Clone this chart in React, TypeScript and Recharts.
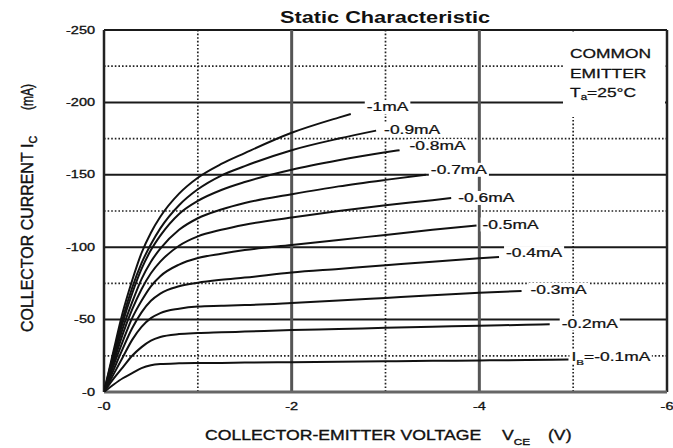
import React from "react";
import { LineChart, Line, XAxis, YAxis, CartesianGrid } from "recharts";

// Collector-emitter voltage grid (V)
const vceGrid = [0, -0.1, -0.2, -0.3, -0.4, -0.5, -0.6, -0.8, -1.0, -1.25, -1.5, -2.0, -2.5, -3.0, -3.5, -4.0, -4.5];

// Base current labels
const ibLabels = ["-1mA", "-0.9mA", "-0.8mA", "-0.7mA", "-0.6mA", "-0.5mA", "-0.4mA", "-0.3mA", "-0.2mA", "-0.1mA"];

// Collector current (mA) for each base current, sampled on vceGrid
const icIb10 = [0, -28, -55, -77, -96, -110, -121, -137, -148, -157.5, -165, -179, -189.5];
const icIb09 = [0, -26, -51, -72, -89, -102, -113, -129, -140, -149.5, -156, -167, -175];
const icIb08 = [0, -24, -48, -68, -85, -98, -108, -123, -132, -139.5, -145, -153.5, -160, -165.5];
const icIb07 = [0, -22, -44, -62, -78, -90, -99, -112, -120, -126, -130.5, -136.5, -142, -146.5];
const icIb06 = [0, -20, -40, -57, -71, -82, -90, -101, -107.5, -112, -115.5, -120.5, -125, -129, -132.5];
const icIb05 = [0, -18, -35, -51, -63, -73, -80, -88, -92.5, -95.5, -98, -101.5, -105, -108.5, -112];
const icIb04 = [0, -15, -30, -44, -55, -63, -68, -73, -75.5, -77.5, -79, -82.5, -85, -87.5, -90, -92.3];
const icIb03 = [0, -12, -24, -36, -45, -51, -54.5, -57.5, -59, -59.5, -60, -61.5, -63.2, -65, -66.8, -68.5];
const icIb02 = [0, -9, -17, -25, -31, -35.5, -38, -40, -40.7, -41.2, -41.7, -42.8, -43.5, -44.3, -45, -45.8, -46.4];
const icIb01 = [0, -5, -9.5, -13, -16.5, -18.5, -19.3, -19.8, -20, -20.1, -20.3, -20.6, -20.9, -21.2, -21.5, -21.8, -22.1];

// Curve end points
const endVce = [-2.63, -2.9, -3.15, -3.43, -3.7, -3.97, -4.21, -4.45, -4.75, -4.95];
const endIc = [-192, -180.5, -167, -150, -134, -115, -93.2, -69.8, -46.8, -22.4];

// Axis ticks
const xTicks = [0, -2, -4, -6];
const xMinor = [-1, -3, -5];
const yTicks = [0, -50, -100, -150, -200, -250];
const yMinor = [-25, -75, -125, -175, -225];

const icCurves = [icIb10, icIb09, icIb08, icIb07, icIb06, icIb05, icIb04, icIb03, icIb02, icIb01];

const series = icCurves.map((ics, k) => {
  const pts = ics.map((ic, j) => ({ v: vceGrid[j], ic }));
  pts.push({ v: endVce[k], ic: endIc[k] });
  return pts;
});

// label placement offsets (px) relative to curve end
const lblDx = [16, 8, 10, 5, 7, 6, 7, 9, 12, 3];
const lblDy = [-7, -1, -4, -5, 0, -1, -4, -1, -1, -3];

const FONT = "'Liberation Sans', Arial, Helvetica, sans-serif";
const SX = 1.45;

const charW: Record<string, number> = {
  "-": 0.333, ".": 0.278, m: 0.833, A: 0.667, I: 0.278, "=": 0.584, B: 0.667,
};
const textW = (s: string, fs: number) =>
  s.split("").reduce((a, c) => a + (charW[c] ?? 0.556), 0) * fs;

const makeLabel = (k: number, lastIndex: number) => (props: any) => {
  const { cx, cy, index } = props;
  if (index !== lastIndex || cx == null) return <g key={`l${k}-${index}`} />;
  const x = cx + lblDx[k];
  const y = cy + lblDy[k];
  const text = ibLabels[k];
  const isLast = k === ibLabels.length - 1;
  const w = (isLast ? textW("I=" + text, 12) + 5 : textW(text, 12)) * SX;
  return (
    <g key={`l${k}-${index}`}>
      <rect x={x - 2} y={y - 7} width={w + 4} height={14} fill="#fff" />
      <text
        transform={`translate(${x},${y + 4.3}) scale(${SX},1)`}
        fontFamily={FONT}
        fontSize={12}
        fill="#111"
        stroke="#111"
        strokeWidth={0.25}
      >
        {isLast ? (
          <>
            I<tspan fontSize={8} dy={4}>B</tspan>
            <tspan dy={-4}>={text}</tspan>
          </>
        ) : (
          text
        )}
      </text>
    </g>
  );
};

const fmt = (v: number) => (v === 0 ? "-0" : String(v));

const XTick = (props: any) => {
  const { x, payload } = props;
  return (
    <text
      transform={`translate(${x},410) scale(${SX},1)`}
      textAnchor="middle"
      fontFamily={FONT}
      fontSize={10}
      fill="#111"
      stroke="#111"
      strokeWidth={0.3}
    >
      {fmt(payload.value)}
    </text>
  );
};

const YTick = (props: any) => {
  const { y, payload } = props;
  return (
    <text
      transform={`translate(95,${y + 3.6}) scale(${SX},1)`}
      textAnchor="end"
      fontFamily={FONT}
      fontSize={10}
      fill="#111"
      stroke="#111"
      strokeWidth={0.3}
    >
      {fmt(payload.value)}
    </text>
  );
};

const Annotations = () => (
  <g fontFamily={FONT} fill="#111">
    {/* Title */}
    <text
      transform={`translate(385,22.5) scale(${SX},1.05)`}
      textAnchor="middle"
      fontSize={15}
      fontWeight="bold"
    >
      Static Characteristic
    </text>
    {/* Common emitter box */}
    <rect x={563} y={33} width={102} height={84} fill="#fff" />
    <g stroke="#111" strokeWidth={0.25} fontSize={12}>
      <text transform={`translate(570,57.5) scale(${SX},1.05)`}>COMMON</text>
      <text transform={`translate(570,77.5) scale(${SX},1.05)`}>EMITTER</text>
      <text transform={`translate(570,96.5) scale(${SX},1.05)`}>
        T<tspan fontSize={8} dy={3}>a</tspan>
        <tspan dy={-3}>=25°C</tspan>
      </text>
    </g>
    {/* X axis title */}
    <g stroke="#111" strokeWidth={0.3} fontSize={12}>
      <text transform={`translate(205,440) scale(1.47,1.15)`}>COLLECTOR-EMITTER VOLTAGE</text>
      <text transform={`translate(502,440) scale(1.47,1.15)`}>
        V<tspan fontSize={8} dy={4}>CE</tspan>
      </text>
      <text transform={`translate(548,440) scale(1.47,1.15)`}>(V)</text>
    </g>
    {/* Y axis title */}
    <g stroke="#111" strokeWidth={0.3} fontSize={12}>
      <text transform={`translate(33,332) rotate(-90) scale(1.33,1.45)`}>COLLECTOR CURRENT</text>
      <text transform={`translate(33,148) rotate(-90) scale(1.33,1.45)`}>
        I<tspan fontSize={8} dy={3}>C</tspan>
      </text>
      <text transform={`translate(33,110) rotate(-90) scale(1.0,1.45)`}>(mA)</text>
    </g>
  </g>
);

export default function App() {
  return (
    <div style={{ position: "absolute", left: 0, top: 0, background: "#fff" }}>
      <LineChart
        width={673}
        height={448}
        margin={{ top: 30, right: 6, bottom: 0, left: 0 }}
        style={{ background: "#fff" }}
      >
        <CartesianGrid
          horizontal={false}
          verticalValues={xMinor}
          stroke="#222"
          strokeWidth={1.7}
          strokeDasharray="1.6 2"
        />
        <CartesianGrid
          vertical={false}
          horizontalValues={yMinor}
          stroke="#222"
          strokeWidth={1.7}
          strokeDasharray="1.6 2"
        />
        <CartesianGrid
          vertical={false}
          horizontalValues={[-50, -100, -150, -200, -250]}
          stroke="#1a1a1a"
          strokeWidth={2}
        />
        <CartesianGrid
          horizontal={false}
          verticalValues={[-2, -4]}
          stroke="#555"
          strokeWidth={3}
        />
        <CartesianGrid
          horizontal={false}
          verticalValues={[0, -6]}
          stroke="#222"
          strokeWidth={2.5}
        />
        <CartesianGrid
          vertical={false}
          horizontalValues={[0]}
          stroke="#666"
          strokeWidth={3}
        />
        <XAxis
          dataKey="v"
          type="number"
          domain={[-6, 0]}
          reversed
          ticks={xTicks}
          interval={0}
          axisLine={false}
          tickLine={false}
          tick={<XTick />}
          height={56}
          allowDataOverflow
        />
        <YAxis
          type="number"
          domain={[-250, 0]}
          reversed
          ticks={yTicks}
          interval={0}
          axisLine={false}
          tickLine={false}
          tick={<YTick />}
          width={104}
          allowDataOverflow
        />
        {series.map((pts, k) => (
          <Line
            key={ibLabels[k]}
            data={pts}
            dataKey="ic"
            type="monotone"
            stroke="#111"
            strokeWidth={2}
            dot={makeLabel(k, pts.length - 1)}
            activeDot={false}
            isAnimationActive={false}
          />
        ))}
        <Annotations />
      </LineChart>
    </div>
  );
}
